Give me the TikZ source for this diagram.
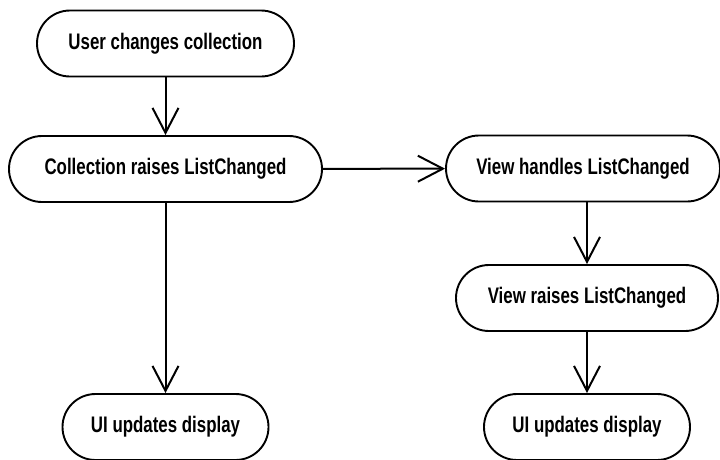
\documentclass[tikz,border=0pt]{standalone}
\usepackage{fontspec}
\setmainfont{Liberation Sans}[FakeStretch=0.75]
\usetikzlibrary{arrows.meta}
\begin{document}
\begin{tikzpicture}[x=1pt,y=-1pt,
  box/.style={draw, line width=1.9pt, rounded corners=33pt, inner sep=0pt, minimum height=66pt,
    font=\fontsize{22.5}{26}\selectfont\bfseries},
  flow/.style={line width=2pt, -{Straight Barb[length=25pt, width=26pt, line width=2pt]}}]
\useasboundingbox (0,0) rectangle (720,459);
\clip (0,0) rectangle (720,459);
\node[box, minimum width=257pt] (n1) at (165.5,43.5) {User changes collection};
\node[box, minimum width=313pt] (n2) at (165.5,169) {Collection raises ListChanged};
\node[box, minimum width=274pt] (n3) at (583,168.5) {View handles ListChanged};
\node[box, minimum width=262pt] (n4) at (587,298) {View raises ListChanged};
\node[box, minimum width=206pt] (n5) at (165.5,427) {UI updates display};
\node[box, minimum width=206pt] (n6) at (587,427) {UI updates display};
\draw[flow] (n1) -- (n2);
\draw[flow] (n2) -- (n5);
\draw[flow] (n2) -- (n3);
\draw[flow] (n3.south -| n4.north) -- (n4.north);
\draw[flow] (n4) -- (n6);
\end{tikzpicture}
\end{document}
